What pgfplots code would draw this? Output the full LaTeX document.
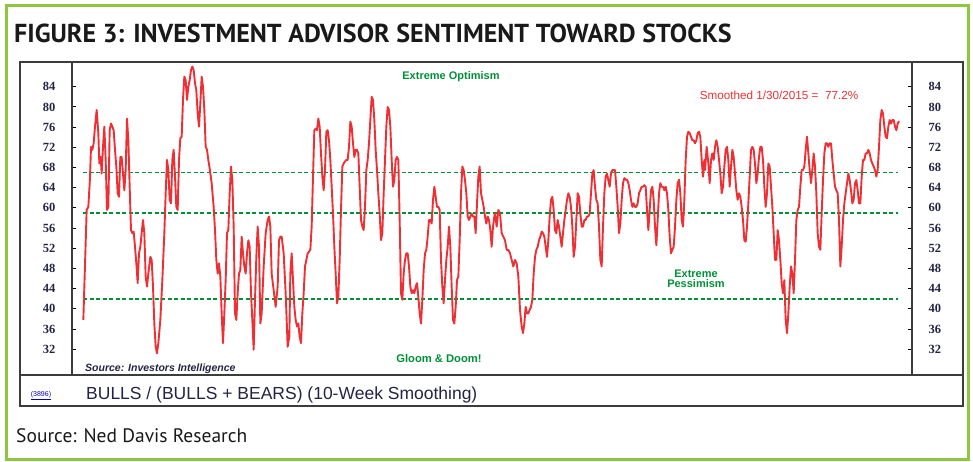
\documentclass[border=0pt]{standalone}
\usepackage{fontspec}
\setmainfont{Liberation Sans}
\newfontfamily\titlefont{PT Sans}
\newfontfamily\tickfont{Liberation Serif}
\usepackage{pgfplots}
\pgfplotsset{compat=1.18}
\definecolor{frameGreen}{RGB}{141,198,63}
\definecolor{lineRed}{RGB}{238,48,52}
\definecolor{dashGreen}{RGB}{0,145,55}
\definecolor{tickNavy}{RGB}{35,35,70}
\definecolor{boxGray}{RGB}{60,60,60}

% Bulls/(Bulls+Bears), 10-week smoothing; x = position along the time axis
\pgfplotstableread{
x y
25 37.8
35 59.6
40 60.2
45 66.0
48 72.1
52 71.5
56 72.8
60 76.1
65 79.4
70 74.8
73 68.8
77 70.1
80 66.8
84 72.1
88 76.1
92 69.5
96 59.6
100 60.2
104 75.4
108 76.7
112 76.1
116 75.4
120 71.5
124 68.2
128 62.9
132 62.2
136 70.1
140 70.1
144 66.8
148 63.5
152 67.5
156 77.7
160 73.4
164 64.2
168 55.6
172 55.0
176 55.3
180 52.3
184 49.0
188 45.1
192 51.0
196 52.3
200 55.0
204 57.6
208 55.0
212 46.4
216 44.4
220 47.0
226 50.3
230 49.7
234 44.4
238 37.1
242 32.5
246 31.2
250 33.2
256 37.8
262 45.7
268 55.0
272 62.9
276 69.5
280 67.5
284 61.6
288 60.9
292 69.5
296 71.5
300 66.2
304 60.2
308 59.6
312 69.5
316 73.8
320 74.1
324 81.4
328 86.0
332 85.3
336 81.4
340 84.0
344 85.3
348 87.3
352 88.0
356 87.3
360 84.7
364 83.3
368 78.7
372 76.1
376 80.7
380 86.0
384 84.0
388 79.4
392 72.1
396 71.5
400 69.5
404 67.8
410 64.9
416 60.2
420 55.6
424 49.7
428 47.0
432 49.0
436 46.4
440 39.1
444 33.2
448 39.1
452 45.7
456 55.0
460 55.6
464 62.9
468 68.2
472 65.5
476 56.3
480 39.1
484 37.8
488 43.1
492 47.0
496 47.7
500 54.3
504 51.0
508 48.4
512 47.0
516 51.0
520 53.6
524 52.3
528 43.1
532 37.8
536 31.9
540 41.8
544 50.3
548 56.3
552 52.3
556 37.1
560 39.1
566 48.4
572 55.0
578 57.6
582 58.3
586 56.3
590 47.0
596 43.7
602 40.4
608 44.4
612 53.6
616 54.3
620 54.3
626 51.0
632 43.1
638 32.5
643 34.5
646 47.0
650 51.0
654 45.7
658 40.4
662 37.8
666 36.5
670 37.1
674 34.5
678 33.2
682 39.1
686 43.1
690 48.4
694 49.7
698 51.0
702 51.3
706 51.7
710 56.3
714 66.2
718 75.4
722 75.7
726 75.4
730 77.7
734 76.1
738 70.8
742 66.2
746 63.5
750 67.5
754 75.1
758 75.4
762 73.4
766 69.5
770 64.2
774 58.9
778 52.3
782 47.0
786 41.1
790 42.4
794 49.7
798 59.6
802 68.2
806 68.8
810 69.2
814 69.5
818 69.5
822 72.1
826 77.1
830 76.1
834 72.8
838 70.1
842 71.5
846 71.5
850 70.8
854 64.2
858 57.6
862 56.3
866 55.6
870 60.2
874 67.5
878 69.5
882 72.8
886 77.4
890 82.0
894 81.4
898 77.4
902 71.5
906 67.5
910 62.9
914 58.9
918 53.6
922 55.0
926 62.9
930 69.5
934 76.1
938 80.0
942 79.4
946 76.1
950 69.5
954 64.2
958 65.5
962 69.5
966 70.1
970 69.5
974 57.6
978 43.1
982 41.8
986 47.0
990 49.7
994 51.0
998 51.0
1002 48.4
1006 44.4
1010 43.1
1014 43.7
1018 43.1
1022 44.4
1026 45.1
1030 42.4
1034 39.1
1038 37.1
1042 41.8
1046 47.7
1050 51.0
1054 51.7
1058 54.3
1062 57.6
1066 57.6
1070 56.9
1074 61.6
1078 64.2
1082 62.2
1086 60.2
1090 60.2
1094 59.6
1098 49.7
1102 44.4
1106 41.1
1110 45.7
1114 49.7
1118 52.3
1122 56.3
1126 52.3
1130 44.4
1134 37.8
1138 37.1
1142 40.4
1146 45.7
1150 46.4
1154 53.6
1158 62.9
1162 68.2
1166 67.5
1170 65.5
1174 62.9
1178 58.3
1182 57.6
1186 58.3
1190 58.9
1194 58.3
1198 58.3
1202 55.0
1206 60.9
1210 66.2
1214 68.2
1218 62.9
1222 61.6
1226 60.2
1230 58.3
1234 56.9
1238 58.3
1242 57.6
1246 55.6
1250 52.3
1254 56.3
1258 58.3
1260 58.9
1265 56.3
1270 59.6
1275 58.9
1280 55.0
1285 54.3
1290 53.6
1295 51.7
1300 51.7
1305 51.0
1310 49.7
1315 48.4
1320 49.7
1325 49.0
1330 46.4
1335 39.8
1340 36.5
1344 35.2
1348 37.1
1352 40.4
1356 39.1
1360 39.1
1364 39.8
1368 40.4
1372 41.8
1376 47.0
1380 50.3
1384 51.7
1388 52.3
1392 53.6
1396 54.3
1400 55.3
1404 55.0
1408 54.3
1412 52.3
1416 50.3
1420 53.6
1424 58.3
1428 61.6
1432 62.2
1436 59.6
1440 55.6
1444 55.0
1448 57.6
1452 56.3
1456 54.3
1460 52.3
1464 55.0
1468 57.6
1472 59.6
1476 61.6
1480 62.9
1484 62.2
1488 60.2
1492 56.3
1496 50.3
1500 52.3
1504 57.6
1508 62.9
1512 62.2
1516 58.9
1520 56.3
1524 56.3
1528 57.6
1532 57.6
1536 58.3
1540 58.3
1544 58.9
1548 62.9
1552 66.8
1556 67.5
1560 64.2
1564 61.6
1568 60.9
1572 56.3
1576 49.7
1580 48.4
1584 56.3
1588 62.9
1592 66.2
1596 66.8
1600 65.5
1604 64.2
1608 66.8
1612 67.5
1616 67.5
1620 67.5
1624 64.2
1628 60.2
1632 55.0
1636 56.9
1640 61.6
1644 64.9
1648 65.9
1652 65.6
1656 65.6
1660 64.9
1664 63.5
1668 61.6
1672 60.2
1676 60.9
1680 60.2
1684 60.2
1688 60.9
1692 62.9
1696 63.5
1700 64.2
1704 64.2
1708 64.5
1712 64.2
1716 59.6
1720 55.6
1724 59.6
1728 63.5
1732 64.2
1736 61.6
1740 56.3
1744 52.6
1748 57.6
1752 62.9
1756 64.9
1760 64.2
1764 64.2
1768 63.5
1772 64.2
1776 62.9
1780 59.6
1784 54.3
1788 51.0
1792 51.7
1796 52.3
1800 56.3
1804 61.6
1808 64.9
1812 65.6
1816 62.9
1820 57.6
1824 56.3
1828 61.6
1832 69.5
1836 74.1
1840 75.1
1844 74.8
1848 74.1
1852 73.4
1856 73.4
1860 72.8
1864 73.4
1868 74.8
1872 75.1
1876 74.1
1880 69.5
1884 66.2
1888 69.5
1890 67.5
1895 72.1
1900 68.8
1904 64.9
1908 69.5
1912 70.8
1916 69.5
1920 72.1
1924 73.4
1928 72.1
1932 69.5
1936 66.8
1940 62.9
1944 64.2
1948 68.2
1952 71.5
1956 72.1
1960 69.5
1964 64.2
1968 68.2
1972 71.5
1976 70.1
1980 66.8
1984 63.5
1988 61.6
1992 62.9
1996 62.2
2000 60.2
2004 57.6
2008 53.6
2012 53.3
2016 56.3
2020 60.9
2024 66.2
2028 71.5
2032 72.1
2036 71.5
2040 68.8
2044 64.9
2048 66.8
2052 70.1
2056 72.1
2060 72.1
2064 69.5
2068 64.2
2072 60.2
2076 62.9
2080 68.8
2084 68.2
2088 64.2
2092 60.2
2096 55.0
2100 49.7
2104 49.7
2108 55.6
2112 53.6
2116 49.7
2120 45.1
2124 43.1
2128 45.7
2132 37.8
2136 35.2
2140 39.1
2144 44.4
2148 48.4
2152 47.0
2156 43.1
2160 49.7
2164 57.6
2168 59.6
2172 60.2
2176 64.2
2180 67.5
2184 67.5
2188 68.2
2192 71.5
2196 74.1
2200 70.8
2204 67.5
2208 64.9
2212 67.5
2216 70.8
2220 68.2
2224 62.9
2228 55.0
2232 52.3
2236 51.7
2240 58.9
2244 65.5
2248 70.8
2252 72.8
2256 72.8
2260 72.1
2264 72.8
2268 72.8
2272 69.5
2276 66.8
2280 64.2
2284 63.5
2288 62.9
2292 57.6
2296 48.4
2300 52.3
2304 57.6
2308 60.9
2312 62.9
2316 64.9
2320 66.8
2324 65.5
2328 63.5
2332 60.9
2336 61.6
2340 64.9
2344 65.5
2348 63.5
2352 60.9
2356 60.9
2360 66.2
2364 69.5
2368 69.5
2372 70.8
2376 70.8
2380 71.5
2384 70.8
2388 69.5
2392 68.8
2396 68.2
2400 67.5
2404 66.2
2408 67.5
2412 72.1
2416 77.4
2420 79.4
2424 78.7
2428 76.1
2432 74.1
2436 73.8
2440 76.1
2444 77.4
2448 76.7
2452 77.4
2456 77.4
2460 76.1
2464 75.4
2468 76.7
2472 77.2
}\sentiment

\begin{document}
\begin{tikzpicture}
\begin{scope}[x=1pt,y=-1pt]
  \useasboundingbox (0,0) rectangle (973,461);
  \draw[frameGreen, line width=3pt] (6.5,5.5) rectangle (968.5,459.5);
  \node[anchor=west, inner sep=0pt, text=black!90,
        font=\titlefont\bfseries\fontsize{26}{26}\selectfont] at (14,33)
        {FIGURE 3: INVESTMENT ADVISOR SENTIMENT TOWARD STOCKS};
  \node[anchor=west, inner sep=0pt, text=black!90,
        font=\titlefont\fontsize{19.5}{19.5}\selectfont] at (16,436)
        {Source: Ned Davis Research};
\end{scope}

\begin{axis}[
    at={(72pt,-375pt)}, anchor=south west,
    scale only axis, width=840pt, height=313pt,
    xmin=-9, xmax=2511, ymin=26.9, ymax=88.9,
    xtick=\empty,
    ytick={32,36,...,84},
    tick align=inside, major tick length=4pt,
    ytick pos=both,
    tick style={line width=1pt, black},
    axis line style={line width=1.3pt, boxGray},
    /pgf/number format/assume math mode=true,
    yticklabel style={font=\tickfont\bfseries\fontsize{12.5}{12.5}\selectfont,
                      text=tickNavy, xshift=-13pt},
  ]
  \addplot[dashGreen, line width=1.6pt, dash pattern=on 4pt off 2.5pt]
    coordinates {(24,67) (2469,67)};
  \addplot[dashGreen, line width=1.6pt, dash pattern=on 4pt off 2.5pt]
    coordinates {(24,59) (2469,59)};
  \addplot[dashGreen, line width=1.6pt, dash pattern=on 4pt off 2.5pt]
    coordinates {(24,42) (2469,42)};
  \addplot[lineRed, line width=1.9pt, line join=round] table {\sentiment};
\end{axis}

\begin{axis}[
    at={(72pt,-375pt)}, anchor=south west,
    scale only axis, width=840pt, height=313pt,
    xmin=-9, xmax=2511, ymin=26.9, ymax=88.9,
    hide x axis, axis y line*=right,
    ytick={32,36,...,84},
    tick align=inside, major tick length=4pt,
    tick style={line width=1pt, black},
    axis line style={line width=1.3pt, boxGray},
    /pgf/number format/assume math mode=true,
    yticklabel style={font=\tickfont\bfseries\fontsize{12.5}{12.5}\selectfont,
                      text=tickNavy, xshift=13pt},
  ]
  \addplot[draw=none] coordinates {(0,50)};
\end{axis}

\begin{scope}[x=1pt,y=-1pt]
  \draw[boxGray, line width=1.3pt] (20,62) rectangle (963,406);
  \draw[boxGray, line width=1.3pt] (20,375) -- (963,375);
  \node[text=dashGreen, font=\bfseries\fontsize{11}{11}\selectfont] at (451,77) {Extreme Optimism};
  \node[text=lineRed, font=\fontsize{11.7}{11.7}\selectfont] at (779,95) {Smoothed 1/30/2015 =\ \ 77.2\%};
  \node[text=dashGreen, font=\bfseries\fontsize{11}{11}\selectfont, align=center] at (696,279) {Extreme\\[-1pt]Pessimism};
  \node[text=dashGreen, font=\bfseries\fontsize{11.2}{11.2}\selectfont] at (439,358) {Gloom \& Doom!};
  \node[anchor=west, inner sep=0pt, font=\bfseries\itshape\fontsize{10.5}{10.5}\selectfont, text=tickNavy]
    at (85,369) {Source: Investors Intelligence};
  \node[anchor=west, inner sep=0pt, font=\fontsize{17.5}{17.5}\selectfont, text=tickNavy]
    at (86,395) {BULLS / (BULLS + BEARS) (10-Week Smoothing)};
  \node[inner sep=0.5pt, font=\fontsize{7}{7}\selectfont, text=blue!70!black]
    at (41,396) {\underline{(3896)}};
\end{scope}
\end{tikzpicture}
\end{document}
